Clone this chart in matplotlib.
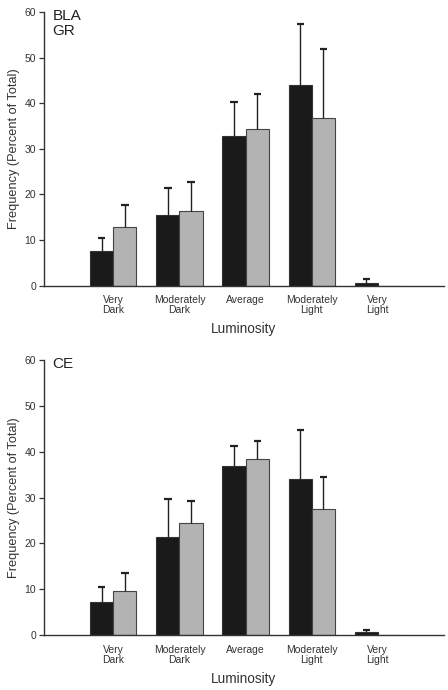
import matplotlib
matplotlib.use("Agg")
import matplotlib.pyplot as plt
import numpy as np

plt.rcParams['font.family'] = ['Liberation Sans', 'DejaVu Sans']

categories = ["Very\nDark", "Moderately\nDark", "Average", "Moderately\nLight", "Very\nLight"]

# Top panel (BLA / GR)
top_black = [7.5, 15.4, 32.7, 44.0, 0.6]
top_black_err = [2.9, 5.9, 7.5, 13.3, 0.8]
top_gray = [12.8, 16.4, 34.4, 36.8, 0.0]
top_gray_err = [4.8, 6.3, 7.7, 15.1, 0.0]

# Bottom panel (CE)
bot_black = [7.3, 21.3, 36.9, 34.1, 0.6]
bot_black_err = [3.1, 8.3, 4.4, 10.7, 0.4]
bot_gray = [9.7, 24.4, 38.5, 27.5, 0.0]
bot_gray_err = [3.8, 4.9, 3.8, 7.1, 0.0]

yticks = [0, 10, 20, 30, 40, 50, 60]

fig = plt.figure(figsize=(4.48, 6.9), dpi=100)
ax1 = fig.add_axes([0.098, 0.5862, 0.893, 0.3964])
ax2 = fig.add_axes([0.098, 0.0797, 0.893, 0.3983])

w = 0.35
cap = 0.055
x = np.arange(len(categories))

def upper_err(ax, xs, vals, errs):
    for xi, v, e in zip(xs, vals, errs):
        if e > 0:
            ax.vlines(xi, v, v + e, color='#222222', linewidth=1.0, zorder=3)
            ax.hlines(v + e, xi - cap, xi + cap, color='#222222', linewidth=1.6, zorder=3)

def draw(ax, black, berr, gray, gerr, label):
    ax.bar(x - w/2, black, w, color='#1a1a1a', edgecolor='#333333', linewidth=0.8, zorder=2)
    ax.bar(x + w/2, gray, w, color='#b3b3b3', edgecolor='#444444', linewidth=0.8, zorder=2)
    upper_err(ax, x - w/2, black, berr)
    upper_err(ax, x + w/2, gray, gerr)
    ax.set_xlim(-1.05, 5.0)
    ax.set_ylim(0, 60)
    ax.set_yticks(yticks)
    ax.set_yticklabels([str(t) for t in yticks], fontsize=7.5, color='#333333')
    ax.set_xticks(x)
    ax.set_xticklabels(categories, fontsize=7.5, color='#333333', linespacing=1.0)
    ax.tick_params(axis='x', length=0, pad=7)
    ax.tick_params(axis='y', length=3.5, width=0.9, color='#333333', pad=2)
    for s in ['top', 'right']:
        ax.spines[s].set_visible(False)
    for s in ['left', 'bottom']:
        ax.spines[s].set_color('#333333')
        ax.spines[s].set_linewidth(1.0)
    ax.set_xlabel("Luminosity", fontsize=9.8, color='#333333', labelpad=5)
    ax.set_ylabel("Frequency (Percent of Total)", fontsize=9.2, color='#333333', labelpad=3)
    ax.text(0.022, 1.01, label, transform=ax.transAxes, fontsize=11, color='#222222',
            va='top', ha='left', linespacing=1.05)

draw(ax1, top_black, top_black_err, top_gray, top_gray_err, "BLA\nGR")
draw(ax2, bot_black, bot_black_err, bot_gray, bot_gray_err, "CE")

fig.savefig("out.png", dpi=100)
